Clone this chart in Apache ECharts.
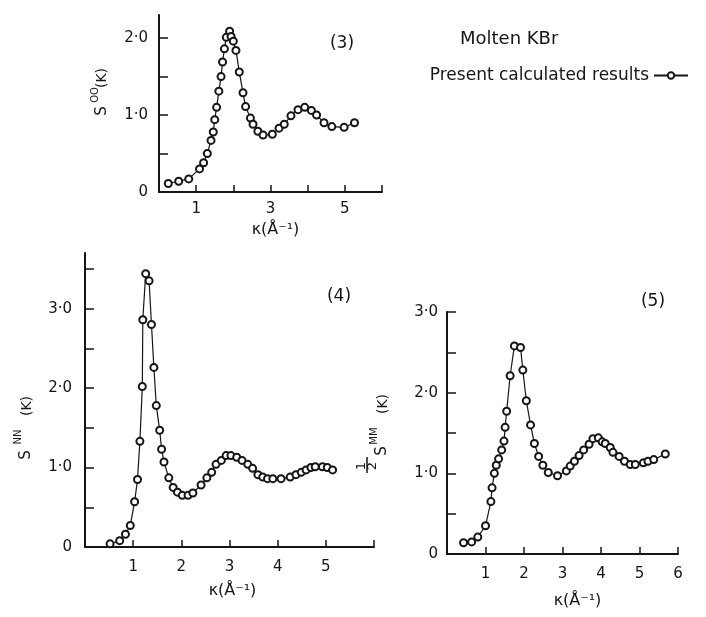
<!DOCTYPE html>
<html>
<head>
<meta charset="utf-8">
<script src="https://cdn.jsdelivr.net/npm/echarts@6/dist/echarts.min.js"></script>
<style>
  html, body { margin: 0; padding: 0; background: #fff; }
  #chart { width: 706px; height: 617px; }
</style>
</head>
<body>
<div id="chart"></div>
<script>
// panel (3): S_OO(k)
const k3 = [0.25, 0.53, 0.80, 1.09, 1.20, 1.30, 1.40, 1.46, 1.50, 1.55, 1.61, 1.67, 1.71, 1.76, 1.81, 1.90, 1.94, 2.00, 2.07, 2.16,
  2.26, 2.33, 2.46, 2.53, 2.66, 2.80, 3.05, 3.23, 3.37, 3.55, 3.74, 3.92, 4.10, 4.24, 4.44, 4.65, 4.98, 5.26];
const s3 = [0.11, 0.14, 0.17, 0.30, 0.38, 0.50, 0.67, 0.78, 0.94, 1.10, 1.31, 1.50, 1.69, 1.86, 2.01, 2.09, 2.02, 1.96, 1.84, 1.56,
  1.29, 1.11, 0.96, 0.88, 0.79, 0.74, 0.75, 0.83, 0.88, 0.99, 1.07, 1.10, 1.06, 1.00, 0.90, 0.85, 0.84, 0.90];

// panel (4): S_NN(k)
const k4 = [0.52, 0.72, 0.84, 0.94, 1.03, 1.09, 1.14, 1.19, 1.20, 1.26, 1.33, 1.38, 1.43, 1.48, 1.55, 1.59, 1.64, 1.74, 1.83, 1.92,
  2.02, 2.14, 2.24, 2.41, 2.53, 2.63, 2.72, 2.83, 2.93, 3.03, 3.15, 3.26, 3.38, 3.48, 3.59, 3.69, 3.79, 3.90, 4.07, 4.26,
  4.38, 4.49, 4.59, 4.69, 4.78, 4.93, 5.03, 5.14];
const s4 = [0.04, 0.08, 0.16, 0.27, 0.57, 0.85, 1.33, 2.02, 2.86, 3.44, 3.35, 2.80, 2.26, 1.78, 1.47, 1.23, 1.07, 0.87, 0.75, 0.69,
  0.65, 0.65, 0.68, 0.78, 0.87, 0.94, 1.04, 1.09, 1.15, 1.15, 1.13, 1.09, 1.04, 0.99, 0.91, 0.88, 0.86, 0.86, 0.86, 0.88,
  0.91, 0.94, 0.97, 1.00, 1.01, 1.01, 1.00, 0.97];

// panel (5): 1/2 S_MM(k)
const k5 = [0.43, 0.64, 0.80, 1.00, 1.14, 1.17, 1.23, 1.28, 1.34, 1.42, 1.48, 1.51, 1.55, 1.64, 1.75, 1.91, 1.97, 2.06, 2.17, 2.27,
  2.38, 2.49, 2.63, 2.87, 3.10, 3.20, 3.31, 3.43, 3.55, 3.69, 3.79, 3.93, 4.03, 4.11, 4.24, 4.31, 4.47, 4.61, 4.76, 4.89,
  5.10, 5.22, 5.37, 5.67];
const s5 = [0.14, 0.15, 0.21, 0.35, 0.65, 0.82, 1.00, 1.10, 1.18, 1.29, 1.40, 1.57, 1.77, 2.21, 2.58, 2.56, 2.28, 1.90, 1.60, 1.37,
  1.21, 1.10, 1.01, 0.97, 1.03, 1.09, 1.15, 1.22, 1.29, 1.36, 1.43, 1.44, 1.39, 1.37, 1.32, 1.26, 1.21, 1.15, 1.11, 1.11,
  1.13, 1.15, 1.17, 1.24];

// tick labels
const xLabels3 = [1, 3, 5];
const xLabels4 = [1, 2, 3, 4, 5];
const xLabels5 = [1, 2, 3, 4, 5, 6];
const yLabels3 = [0, 1, 2];
const yLabels45 = [0, 1, 2, 3];

const INK = '#151515';
const FONT = 'DejaVu Sans';
const seriesName = 'Present calculated results';

const zip = (xs, ys) => xs.map((x, i) => [x, ys[i]]);
const yFmt = v => (v === 0 ? '0' : v.toFixed(1).replace('.', '·'));

function xAxis(idx, labels, margin, gap, shift) {
  return {
    type: 'value', gridIndex: idx, min: 0, max: 6, interval: 1,
    name: 'κ(Å⁻¹)', nameLocation: 'middle', nameGap: gap,
    nameTextStyle: { fontSize: 16, color: INK, fontFamily: FONT, padding: [0, 0, 0, shift] },
    axisLine: { lineStyle: { color: INK, width: 2 } },
    axisTick: { inside: true, length: 7, customValues: [1, 2, 3, 4, 5, 6], lineStyle: { color: INK, width: 1.5 } },
    axisLabel: { customValues: labels, fontSize: 15, color: INK, fontFamily: FONT, margin: margin },
    splitLine: { show: false }
  };
}

function yAxis(idx, max, ticks, labels, margin) {
  return {
    type: 'value', gridIndex: idx, min: 0, max: max,
    axisLine: { lineStyle: { color: INK, width: 2 } },
    axisTick: { inside: true, length: 9, customValues: ticks, lineStyle: { color: INK, width: 1.5 } },
    axisLabel: { customValues: labels, fontSize: 15, color: INK, fontFamily: FONT, margin: margin, formatter: yFmt },
    splitLine: { show: false }
  };
}

function line(idx, xs, ys) {
  return {
    name: seriesName, type: 'line', xAxisIndex: idx, yAxisIndex: idx,
    data: zip(xs, ys),
    symbol: 'emptyCircle', symbolSize: 7,
    lineStyle: { color: INK, width: 1.2 },
    itemStyle: { color: INK, borderWidth: 1.5 }
  };
}

// rotated text piece for the y-axis names
function vtext(x, y, text, size) {
  return {
    type: 'text', x: x, y: y, rotation: Math.PI / 2,
    style: { text: text, fontSize: size, fontFamily: FONT, fill: INK, align: 'center', verticalAlign: 'middle' }
  };
}
function htext(x, y, text, size) {
  return {
    type: 'text', x: x, y: y,
    style: { text: text, fontSize: size, fontFamily: FONT, fill: INK, align: 'center', verticalAlign: 'middle' }
  };
}

const chart = echarts.init(document.getElementById('chart'));
chart.setOption({
  animation: false,
  backgroundColor: '#fff',
  title: {
    text: 'Molten KBr', left: 455, top: 25,
    textStyle: { fontSize: 18, fontWeight: 'normal', color: INK, fontFamily: FONT }
  },
  legend: {
    data: [seriesName], right: 12, top: 62, align: 'right',
    itemWidth: 34, itemHeight: 8,
    textStyle: { fontSize: 17, color: INK, fontFamily: FONT }
  },
  grid: [
    { left: 159, top: 15, width: 223, height: 177 },
    { left: 85, top: 253, width: 289, height: 294 },
    { left: 447, top: 312, width: 231, height: 242 }
  ],
  xAxis: [
    xAxis(0, xLabels3, 10, 30, 10),
    xAxis(1, xLabels4, 13, 36, 6),
    xAxis(2, xLabels5, 13, 39, 30)
  ],
  yAxis: [
    yAxis(0, 2.3, [0.5, 1, 1.5, 2], yLabels3, 11),
    yAxis(1, 3.7, [0.5, 1, 1.5, 2, 2.5, 3, 3.5], yLabels45, 13),
    yAxis(2, 3.0, [0.5, 1, 1.5, 2, 2.5, 3], yLabels45, 9)
  ],
  series: [line(0, k3, s3), line(1, k4, s4), line(2, k5, s5)],
  graphic: [
    htext(342, 44, '(3)', 17),
    htext(339, 297, '(4)', 17),
    htext(653, 302, '(5)', 17),
    // S^OO(K)
    vtext(102, 111, 'S', 15),
    vtext(95, 95, 'OO', 10),
    vtext(102, 78, '(K)', 14),
    // S^NN(K)
    vtext(26, 455, 'S', 15),
    vtext(18, 437, 'NN', 10),
    vtext(27, 406, '(K)', 14),
    // 1/2 S^MM(K)
    vtext(362, 466, '1', 13),
    { type: 'line', shape: { x1: 367, y1: 457, x2: 367, y2: 473 }, style: { stroke: INK, lineWidth: 1.5 } },
    vtext(373, 466, '2', 13),
    vtext(382, 451, 'S', 15),
    vtext(374, 436, 'MM', 10),
    vtext(383, 404, '(K)', 14)
  ]
});
</script>
</body>
</html>
